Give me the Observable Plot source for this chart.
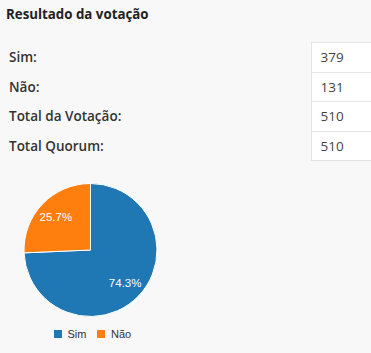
<!DOCTYPE html>
<html>
<head>
<meta charset="utf-8">
<script src="https://cdn.jsdelivr.net/npm/d3@7"></script>
<script src="https://cdn.jsdelivr.net/npm/@observablehq/plot@0.6"></script>
<style>
  html, body { margin: 0; padding: 0; background: #f8f8f8; overflow: hidden; width: 371px; height: 353px; }
  body { position: relative; font-family: "Open Sans", sans-serif; color: #333; }
  #title { position: absolute; left: 6px; top: 5px; font-size: 13.3px; font-weight: 700; color: #222; white-space: nowrap; }
  #tbl { position: absolute; left: 5px; top: 42px; border-collapse: collapse; table-layout: fixed; width: 425px; }
  #tbl td { height: 29.5px; padding: 0; font-size: 13.5px; white-space: nowrap; box-sizing: border-box; }
  #tbl td.lab { width: 306px; padding-left: 4px; font-weight: 600; color: #333; }
  #tbl td.val { width: 119px; padding-left: 9px; background: #fff; border: 1px solid #e4e4e4; color: #444; }
  #pie { position: absolute; left: 0; top: 175px; }
  #legend { position: absolute; left: 54px; top: 317px; }
</style>
</head>
<body>
<div id="title">Resultado da votação</div>
<table id="tbl"></table>
<div id="pie"></div>
<div id="legend"></div>
<script>
const rowLabels = ["Sim:", "Não:", "Total da Votação:", "Total Quorum:"];
const rowValues = [379, 131, 510, 510];

const categories = ["Sim", "Não"];
const votes = [379, 131];
const colors = ["#1f77b4", "#ff7f0e"];

// table
const tbl = document.getElementById("tbl");
rowLabels.forEach((l, i) => {
  const tr = document.createElement("tr");
  const a = document.createElement("td"); a.className = "lab"; a.textContent = l;
  const b = document.createElement("td"); b.className = "val"; b.textContent = rowValues[i];
  tr.append(a, b); tbl.append(tr);
});

const data = categories.map((c, i) => ({label: c, value: votes[i]}));
const total = d3.sum(votes);

function pieMark(index, scales, values, dims) {
  const {width, height} = dims;
  const r = 66.5;
  const color = scales.color || (c => colors[categories.indexOf(c)]);
  const arcs = d3.pie().sort(null).value(d => d.value)(data);
  const arc = d3.arc().innerRadius(0).outerRadius(r);
  const labelArc = d3.arc().innerRadius(48).outerRadius(48);
  const g = d3.create("svg:g").attr("transform", `translate(${width / 2},${height / 2})`);
  g.selectAll("path").data(arcs).join("path")
    .attr("d", arc)
    .attr("fill", d => color(d.data.label))
    .attr("stroke", "#fff")
    .attr("stroke-width", 1);
  g.selectAll("text").data(arcs).join("text")
    .attr("transform", d => `translate(${labelArc.centroid(d)})`)
    .attr("text-anchor", "middle")
    .attr("dy", "0.35em")
    .attr("fill", "#fff")
    .attr("font-family", "Arial, 'Liberation Sans', sans-serif")
    .attr("font-size", 11.5)
    .text(d => (100 * d.data.value / total).toFixed(1) + "%");
  return g.node();
}

const chart = Plot.plot({
  width: 181,
  height: 150,
  margin: 0,
  style: {background: "transparent", overflow: "visible"},
  color: {domain: categories, range: colors},
  marks: [
    Plot.dot(data, {fill: "label", r: 0}),
    pieMark
  ]
});
document.getElementById("pie").append(chart);

const legend = Plot.legend({
  color: {domain: categories, range: colors},
  legend: "swatches",
  swatchSize: 8,
  style: {fontFamily: "Arial, 'Liberation Sans', sans-serif", fontSize: "11px", color: "#333", background: "transparent"}
});
document.getElementById("legend").append(legend);
</script>
</body>
</html>
